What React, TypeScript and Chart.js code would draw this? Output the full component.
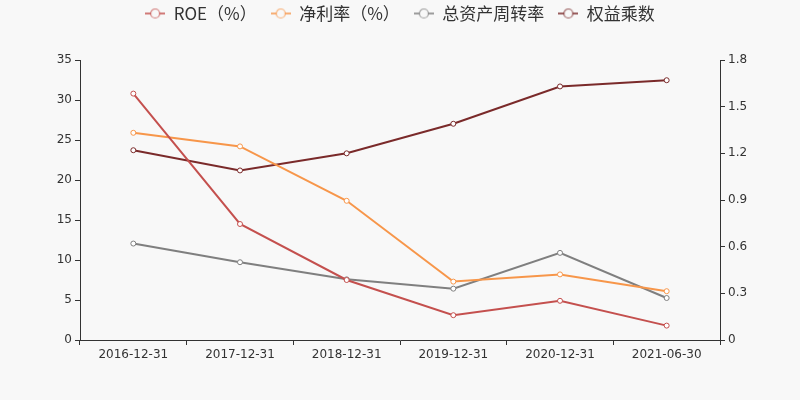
import React, { useEffect, useRef } from "react";
import { Chart, registerables } from "chart.js";

Chart.register(...registerables);

const categories = ["2016-12-31", "2017-12-31", "2018-12-31", "2019-12-31", "2020-12-31", "2021-06-30"];
const roe = [30.8, 14.5, 7.5, 3.1, 4.9, 1.8];
const netMargin = [25.9, 24.2, 17.4, 7.3, 8.2, 6.1];
const assetTurnover = [0.62, 0.5, 0.39, 0.33, 0.56, 0.27];
const equityMultiplier = [1.22, 1.09, 1.2, 1.39, 1.63, 1.67];
const seriesNames = ["ROE（%）", "净利率（%）", "总资产周转率", "权益乘数"];
const seriesColors = ["#c4504e", "#f7964a", "#7f7f7f", "#7a2a2a"];

function makeIcon(color: string): HTMLCanvasElement {
  const c = document.createElement("canvas");
  c.width = 20;
  c.height = 12;
  const ctx = c.getContext("2d")!;
  ctx.globalAlpha = 0.75;
  ctx.strokeStyle = color;
  ctx.lineWidth = 2;
  ctx.beginPath();
  ctx.moveTo(0, 6);
  ctx.lineTo(20, 6);
  ctx.stroke();
  ctx.globalAlpha = 1;
  ctx.fillStyle = "#f8f8f8";
  ctx.beginPath();
  ctx.arc(10, 6, 4.5, 0, Math.PI * 2);
  ctx.fill();
  ctx.globalAlpha = 0.75;
  ctx.lineWidth = 1.2;
  ctx.stroke();
  return c;
}

const legendTweak = {
  id: "legendTweak",
  beforeLayout(chart: any) {
    const lg = chart.legend;
    if (lg && !lg._patched) {
      const f = lg.fit.bind(lg);
      lg.fit = () => {
        f();
        lg.height = 60;
      };
      lg._patched = true;
    }
  },
  afterLayout(chart: any) {
    const lg = chart.legend;
    if (lg) lg.top = -9;
  },
};

export default function App() {
  const ref = useRef<HTMLCanvasElement>(null);
  useEffect(() => {
    const icons = seriesColors.map(makeIcon);
    const tickFont = { family: "'DejaVu Sans', sans-serif", size: 12 };
    const axisColor = "#333333";
    const mk = (label: string, data: number[], color: string, axis: string) => ({
      label,
      data,
      yAxisID: axis,
      borderColor: color,
      backgroundColor: color,
      borderWidth: 2,
      pointRadius: 2.5,
      pointBorderWidth: 1,
      pointBackgroundColor: "#ffffff",
      pointBorderColor: color,
      tension: 0,
    });
    const chart = new Chart(ref.current!, {
      type: "line",
      data: {
        labels: categories,
        datasets: [
          mk(seriesNames[0], roe, seriesColors[0], "y"),
          mk(seriesNames[1], netMargin, seriesColors[1], "y"),
          mk(seriesNames[2], assetTurnover, seriesColors[2], "y1"),
          mk(seriesNames[3], equityMultiplier, seriesColors[3], "y1"),
        ],
      },
      options: {
        responsive: false,
        animation: false,
        devicePixelRatio: 1,
        layout: { padding: 0 },
        plugins: {
          tooltip: { enabled: false },
          legend: {
            position: "top",
            labels: {
              usePointStyle: true,
              pointStyleWidth: 20,
              padding: 14,
              color: "#333333",
              font: { family: "'Noto Sans CJK SC', sans-serif", size: 17 },
              generateLabels: (chart: any) =>
                chart.data.datasets.map((ds: any, i: number) => ({
                  text: ds.label,
                  pointStyle: icons[i],
                  fillStyle: ds.borderColor,
                  strokeStyle: ds.borderColor,
                  lineWidth: 0,
                  hidden: false,
                  datasetIndex: i,
                  fontColor: "#333333",
                })),
            },
          },
        },
        scales: {
          x: {
            type: "category",
            offset: true,
            afterFit: (s: any) => {
              s.height = 60;
            },
            grid: { offset: true, drawOnChartArea: false, drawTicks: true, tickLength: 5, color: axisColor },
            border: { display: true, color: axisColor, width: 1 },
            ticks: { color: axisColor, font: tickFont, maxRotation: 0, autoSkip: false },
          },
          y: {
            position: "left",
            min: 0,
            max: 35,
            afterFit: (s: any) => {
              s.width = 80;
            },
            grid: { drawOnChartArea: false, drawTicks: true, tickLength: 5, color: axisColor },
            border: { display: true, color: axisColor, width: 1 },
            ticks: { stepSize: 5, color: axisColor, font: tickFont },
          },
          y1: {
            position: "right",
            min: 0,
            max: 1.8,
            afterFit: (s: any) => {
              s.width = 80;
            },
            grid: { drawOnChartArea: false, drawTicks: true, tickLength: 5, color: axisColor },
            border: { display: true, color: axisColor, width: 1 },
            ticks: {
              stepSize: 0.3,
              color: axisColor,
              font: tickFont,
              callback: (v: any) => String(Math.round(Number(v) * 10) / 10),
            },
          },
        },
      },
      plugins: [legendTweak],
    } as any);
    return () => chart.destroy();
  }, []);
  return (
    <div style={{ position: "absolute", left: 0, top: 0, width: 800, height: 400, background: "#f8f8f8" }}>
      <canvas ref={ref} width={800} height={400} style={{ display: "block" }} />
    </div>
  );
}
